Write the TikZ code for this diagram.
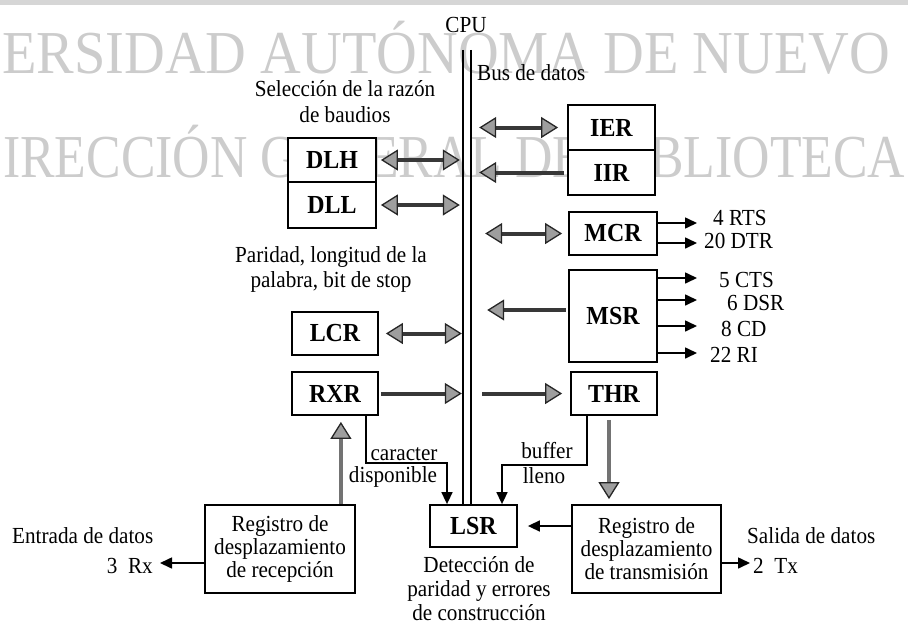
\documentclass[tikz,border=0pt]{standalone}
\usepackage{fontspec}
\setmainfont[FakeStretch=0.92]{Liberation Serif}
\newfontfamily\wmfont{Liberation Serif}
\usetikzlibrary{arrows.meta}

\newcommand\diagtext{\fontsize{23}{23}\selectfont}
\newcommand\reglabel{\fontsize{26}{28}\selectfont\bfseries}

\tikzset{
  reg/.style={draw, fill=white, line width=1.8pt, inner sep=0pt, font=\reglabel},
  shiftreg/.style={draw, fill=white, line width=1.8pt, inner sep=0pt, align=center, font=\diagtext},
  txt/.style={inner sep=0pt, anchor=base, font=\diagtext},
  txtw/.style={inner sep=0pt, anchor=base west, font=\diagtext},
  txte/.style={inner sep=0pt, anchor=base east, font=\diagtext},
  wm/.style={inner sep=0pt, anchor=base west, text=black!20, font=\wmfont\fontsize{10}{12}\selectfont},
  fattip/.tip={Triangle[length=17pt, width=21pt, fill=black!38, color=black!85, line width=1.3pt]},
  sigtip/.tip={Triangle[length=12pt, width=11pt]},
  fat/.style={line width=4pt, draw=black!78},
  fatv/.style={line width=3.5pt, draw=black!55},
  sig/.style={line width=1.6pt, -sigtip},
  busline/.style={line width=2pt}
}

\begin{document}
\begin{tikzpicture}[x=1pt, y=-1pt]
\useasboundingbox (0,0) rectangle (908,627);
\fill[black!16] (0,0) rectangle (908,4.5);

% background lettering
\node[wm] (wmtop) at (2,73) {\scalebox{5.64}[6.1]{ERSIDAD AUTÓNOMA DE NUEVO}};
\node[wm] (wmbottom) at (3,177) {\scalebox{5.18}[6.1]{IRECCIÓN GENERAL DE BIBLIOTECA}};

% data bus
\node[minimum width=8, minimum height=455, inner sep=0pt] (bus) at (467,277.5) {};
\draw[busline] (bus.north west) -- (bus.south west);
\draw[busline] (bus.north east) -- (bus.south east);
\node[txt] (cpu) at (466,32) {CPU};
\node[txtw] (busname) at (477,80) {Bus de datos};

% registers, left of the bus
\node[reg, minimum width=88, minimum height=44] (dlh) at (332,160) {DLH};
\node[reg, minimum width=88, minimum height=46] (dll) at (332,205) {DLL};
\node[reg, minimum width=86, minimum height=43] (lcr) at (335,333.5) {LCR};
\node[reg, minimum width=86, minimum height=43] (rxr) at (335,393.5) {RXR};

% registers, right of the bus
\node[reg, minimum width=87, minimum height=45] (ier) at (611.5,127.5) {IER};
\node[reg, minimum width=87, minimum height=45] (iir) at (611.5,172.5) {IIR};
\node[reg, minimum width=88, minimum height=43] (mcr) at (613,233.5) {MCR};
\node[reg, minimum width=88, minimum height=92] (msr) at (613,316) {MSR};
\node[reg, minimum width=86, minimum height=43] (thr) at (614,393.5) {THR};

% bottom row
\node[reg, minimum width=87, minimum height=42] (lsr) at (473.5,526) {LSR};
\node[shiftreg, minimum width=150, minimum height=88] (recv) at (280,549)
  {Registro de\\desplazamiento\\de recepción};
\node[shiftreg, minimum width=149, minimum height=88] (trans) at (646.5,549)
  {Registro de\\desplazamiento\\de transmisión};

% descriptive text
\node[txt] (sel1) at (345,96) {Selección de la razón};
\node[txt] (sel2) at (345,122) {de baudios};
\node[txt] (par1) at (331,262) {Paridad, longitud de la};
\node[txt] (par2) at (331,287) {palabra, bit de stop};
\node[txt] (det1) at (479,572) {Detección de};
\node[txt] (det2) at (479,596) {paridad y errores};
\node[txt] (det3) at (479,620) {de construcción};

% bus transfers
\draw[fat, fattip-fattip, shorten <=4pt, shorten >=3pt] (dlh.east) -- (dlh.east -| bus.west);
\draw[fat, fattip-fattip, shorten <=4pt, shorten >=3pt] (dll.east) -- (dll.east -| bus.west);
\draw[fat, fattip-fattip, shorten <=7pt, shorten >=1pt] (lcr.east) -- (lcr.east -| bus.west);
\draw[fat, -fattip, shorten <=2pt, shorten >=1pt] (rxr.east) -- (rxr.east -| bus.west);
\draw[fat, fattip-fattip, shorten <=8pt, shorten >=9pt] (ier.west -| bus.east) -- (ier.west);
\draw[fat, fattip-, shorten <=8pt, shorten >=3pt] (iir.west -| bus.east) -- (iir.west);
\draw[fat, fattip-fattip, shorten <=14pt, shorten >=6pt] (mcr.west -| bus.east) -- (mcr.west);
\coordinate (msrin) at ([yshift=6pt]msr.west);
\draw[fat, fattip-, shorten <=16pt, shorten >=2pt] (msrin -| bus.east) -- (msrin);
\draw[fat, -fattip, shorten <=11pt, shorten >=8pt] (thr.west -| bus.east) -- (thr.west);

% serial data paths
\coordinate (ru) at ([xshift=-15pt]recv.north east);
\draw[fatv, -fattip, shorten >=6pt] (ru) -- (ru |- rxr.south);
\coordinate (td) at ([xshift=-5pt]thr.south);
\draw[fatv, -fattip, shorten <=4pt, shorten >=5pt] (td) -- (td |- trans.north);

% status lines into LSR
\coordinate (cr) at (447,463);
\draw[sig] ([xshift=-13pt]rxr.south east) |- (cr) -- (cr |- lsr.north);
\node[txt] (caracter) at (404,460) {caracter};
\node[txt] (disponible) at (393,482) {disponible};
\coordinate (bl) at (502,465);
\draw[sig] ([xshift=17pt]thr.south west) |- (bl) -- (bl |- lsr.north);
\node[txt] (buffer) at (547,458) {buffer};
\node[txt] (lleno) at (544,483) {lleno};
\draw[sig, shorten >=10pt] (lsr.east -| trans.west) -- (lsr.east);

% modem lines
\coordinate (rts) at (697,223);
\coordinate (dtr) at (697,243);
\coordinate (cts) at (697,278);
\coordinate (dsr) at (697,300);
\coordinate (cd) at (697,326);
\coordinate (ri) at (697,353);
\draw[sig] (mcr.east |- rts) -- (rts);
\draw[sig] (mcr.east |- dtr) -- (dtr);
\draw[sig] (msr.east |- cts) -- (cts);
\draw[sig] (msr.east |- dsr) -- (dsr);
\draw[sig] (msr.east |- cd) -- (cd);
\draw[sig] (msr.east |- ri) -- (ri);
\node[txtw] (rtsl) at (713,225) {4 RTS};
\node[txtw] (dtrl) at (704,248) {20 DTR};
\node[txtw] (ctsl) at (719,287) {5 CTS};
\node[txtw] (dsrl) at (727,310) {6 DSR};
\node[txtw] (cdl) at (721,336) {8 CD};
\node[txtw] (ril) at (710,362) {22 RI};

% serial input and output
\coordinate (rxend) at (160,563);
\draw[sig] (recv.west |- rxend) -- (rxend);
\node[txtw] (entrada) at (12,543) {Entrada de datos};
\node[txte] (rxl) at (153,573) {3\ \ Rx};
\coordinate (txend) at (750,563);
\draw[sig] (trans.east |- txend) -- (txend);
\node[txtw] (salida) at (747,543) {Salida de datos};
\node[txtw] (txl) at (753,573) {2\ \ Tx};
\end{tikzpicture}
\end{document}
